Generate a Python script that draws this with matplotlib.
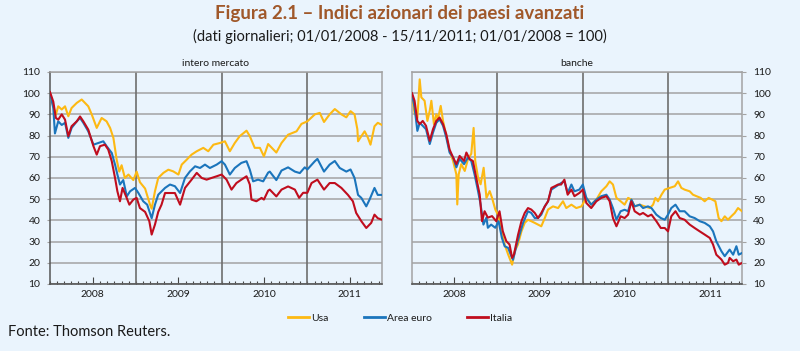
import matplotlib
matplotlib.use("Agg")
import matplotlib.pyplot as plt
import matplotlib.dates as mdates
from matplotlib import font_manager
from matplotlib.lines import Line2D
import pandas as pd

# ---------------- data ----------------
series_names = ["Usa", "Area euro", "Italia"]
panel_titles = ["intero mercato", "banche"]
year_labels = [2008, 2009, 2010, 2011]
y_ticks = [10, 20, 30, 40, 50, 60, 70, 80, 90, 100, 110]

# --- intero mercato ---
mkt_usa_dates = ["2008-01-01", "2008-01-15", "2008-01-26", "2008-02-05", "2008-02-20", "2008-03-05",
                 "2008-03-19", "2008-04-02", "2008-04-24", "2008-05-15", "2008-05-29", "2008-06-12",
                 "2008-06-27", "2008-07-18", "2008-08-08", "2008-08-29", "2008-09-13", "2008-09-27",
                 "2008-10-11", "2008-10-22", "2008-11-01", "2008-11-15", "2008-11-30", "2008-12-21",
                 "2009-01-04", "2009-01-18", "2009-02-09", "2009-03-02", "2009-03-09", "2009-03-23",
                 "2009-04-06", "2009-04-28", "2009-05-19", "2009-06-09", "2009-07-01", "2009-07-15",
                 "2009-08-05", "2009-08-26", "2009-09-17", "2009-10-15", "2009-11-05", "2009-11-27",
                 "2009-12-25", "2010-01-15", "2010-02-05", "2010-02-26", "2010-03-19", "2010-04-17",
                 "2010-05-01", "2010-05-22", "2010-06-13", "2010-06-30", "2010-07-18", "2010-08-22",
                 "2010-09-13", "2010-10-11", "2010-11-16", "2010-12-07", "2011-01-01", "2011-02-02",
                 "2011-02-23", "2011-03-13", "2011-04-06", "2011-04-28", "2011-05-26", "2011-06-16",
                 "2011-07-04", "2011-07-21", "2011-08-02", "2011-08-05", "2011-08-19", "2011-09-02",
                 "2011-09-16", "2011-09-27", "2011-10-14", "2011-10-28", "2011-11-15"]
mkt_usa_vals = [99.5, 93.8, 89.9, 93.8, 92.3, 93.8,
                89.1, 93.0, 95.4, 97.0, 95.4, 93.8,
                89.9, 83.6, 88.3, 86.7, 83.6, 78.9,
                68.6, 63.0, 66.0, 60.0, 61.6, 59.0,
                63.0, 58.0, 55.0, 47.4, 45.5, 53.7,
                60.0, 62.4, 63.9, 63.1, 61.6, 66.3,
                68.6, 71.0, 72.6, 74.2, 72.6, 75.7,
                76.5, 77.3, 72.6, 76.5, 79.7, 82.3,
                79.7, 74.2, 74.2, 70.2, 76.0, 72.0,
                76.5, 80.4, 82.0, 85.5, 86.7, 90.0,
                90.7, 86.4, 90.0, 92.5, 90.0, 88.6,
                91.5, 90.0, 83.0, 77.3, 79.7, 82.0,
                79.0, 75.7, 84.4, 86.0, 85.0]

mkt_eur_dates = ["2008-01-01", "2008-01-15", "2008-01-22", "2008-02-05", "2008-02-20", "2008-03-05",
                 "2008-03-19", "2008-04-02", "2008-04-24", "2008-05-08", "2008-05-22", "2008-06-12",
                 "2008-07-04", "2008-07-25", "2008-08-15", "2008-08-29", "2008-09-20", "2008-10-04",
                 "2008-10-14", "2008-10-25", "2008-11-08", "2008-11-23", "2008-12-07", "2008-12-28",
                 "2009-01-11", "2009-02-01", "2009-02-18", "2009-03-09", "2009-03-23", "2009-04-06",
                 "2009-05-05", "2009-05-26", "2009-06-16", "2009-07-08", "2009-07-29", "2009-08-19",
                 "2009-09-10", "2009-10-01", "2009-10-22", "2009-11-12", "2009-12-11", "2010-01-01",
                 "2010-01-15", "2010-02-05", "2010-02-26", "2010-03-26", "2010-04-17", "2010-05-01",
                 "2010-05-15", "2010-06-05", "2010-06-27", "2010-07-18", "2010-07-25", "2010-08-22",
                 "2010-09-13", "2010-10-11", "2010-11-09", "2010-11-30", "2010-12-21", "2011-01-01",
                 "2011-02-02", "2011-02-13", "2011-03-13", "2011-04-06", "2011-04-28", "2011-05-19",
                 "2011-06-16", "2011-07-04", "2011-07-21", "2011-08-05", "2011-08-19", "2011-09-09",
                 "2011-09-23", "2011-10-14", "2011-10-28", "2011-11-15"]
mkt_eur_vals = [100.0, 93.0, 81.0, 86.7, 85.0, 86.0,
                78.9, 83.6, 86.7, 88.3, 86.0, 82.0,
                75.7, 76.5, 77.3, 75.0, 71.8, 66.3,
                61.6, 56.9, 59.0, 51.3, 53.7, 55.3,
                53.0, 49.0, 47.4, 41.0, 47.4, 52.1,
                55.3, 56.9, 56.1, 52.9, 60.0, 63.1,
                65.5, 64.7, 66.3, 64.7, 66.3, 67.9,
                66.3, 61.6, 64.7, 67.1, 67.9, 63.9,
                58.4, 59.2, 58.4, 62.5, 63.0, 59.0,
                63.5, 65.0, 63.0, 62.3, 65.0, 64.0,
                67.9, 69.0, 63.0, 66.3, 68.0, 64.7,
                63.0, 64.0, 60.0, 52.0, 50.6, 46.6,
                49.8, 55.3, 52.0, 52.0]

mkt_ita_dates = ["2008-01-01", "2008-01-15", "2008-01-26", "2008-02-05", "2008-02-20", "2008-03-05",
                 "2008-03-19", "2008-04-02", "2008-04-24", "2008-05-08", "2008-05-22", "2008-06-12",
                 "2008-07-04", "2008-07-18", "2008-08-01", "2008-08-22", "2008-09-05", "2008-09-20",
                 "2008-10-04", "2008-10-14", "2008-10-25", "2008-11-05", "2008-11-20", "2008-12-04",
                 "2008-12-21", "2009-01-04", "2009-01-18", "2009-02-09", "2009-02-27", "2009-03-09",
                 "2009-03-23", "2009-04-06", "2009-04-20", "2009-05-05", "2009-05-26", "2009-06-16",
                 "2009-07-08", "2009-07-29", "2009-08-26", "2009-09-17", "2009-10-08", "2009-10-29",
                 "2009-11-19", "2009-12-11", "2010-01-01", "2010-01-22", "2010-02-12", "2010-03-05",
                 "2010-03-26", "2010-04-17", "2010-05-01", "2010-05-08", "2010-05-29", "2010-06-20",
                 "2010-06-30", "2010-07-18", "2010-07-25", "2010-08-22", "2010-09-13", "2010-10-11",
                 "2010-11-09", "2010-11-27", "2010-12-14", "2011-01-01", "2011-01-19", "2011-02-13",
                 "2011-03-13", "2011-04-06", "2011-04-28", "2011-05-26", "2011-06-23", "2011-07-14",
                 "2011-07-28", "2011-08-19", "2011-09-09", "2011-09-30", "2011-10-14", "2011-10-28",
                 "2011-11-15"]
mkt_ita_vals = [100.5, 96.0, 88.3, 87.5, 90.0, 87.5,
                79.7, 84.4, 86.7, 89.0, 86.7, 82.8,
                75.0, 71.0, 75.0, 75.7, 73.4, 67.9,
                60.0, 53.7, 49.0, 55.3, 51.3, 47.4,
                49.8, 50.6, 45.8, 44.0, 39.6, 33.3,
                38.0, 44.0, 47.4, 52.9, 52.9, 52.9,
                47.4, 55.3, 59.2, 62.4, 60.0, 59.2,
                60.0, 60.8, 61.6, 59.2, 54.5, 57.6,
                59.2, 60.8, 56.9, 49.8, 49.0, 50.6,
                49.8, 54.0, 54.5, 51.3, 54.5, 56.0,
                54.5, 50.6, 53.0, 53.0, 57.6, 59.2,
                54.5, 57.6, 57.6, 55.3, 52.0, 49.0,
                43.5, 39.6, 36.4, 38.8, 42.7, 41.0,
                40.3]

# --- banche ---
bnk_usa_dates = ["2008-01-01", "2008-01-12", "2008-01-24", "2008-02-03", "2008-02-10", "2008-02-24",
                 "2008-03-07", "2008-03-17", "2008-03-24", "2008-04-04", "2008-04-14", "2008-04-21",
                 "2008-05-03", "2008-05-13", "2008-05-27", "2008-06-10", "2008-06-25", "2008-07-09",
                 "2008-07-13", "2008-07-19", "2008-07-30", "2008-08-14", "2008-08-28", "2008-09-11",
                 "2008-09-21", "2008-09-28", "2008-10-10", "2008-10-21", "2008-11-03", "2008-11-15",
                 "2008-11-29", "2008-12-09", "2008-12-23", "2009-01-06", "2009-01-18", "2009-02-01",
                 "2009-02-16", "2009-03-05", "2009-03-16", "2009-03-30", "2009-04-14", "2009-04-28",
                 "2009-05-12", "2009-05-26", "2009-06-10", "2009-06-24", "2009-07-08", "2009-07-23",
                 "2009-08-06", "2009-08-27", "2009-09-18", "2009-10-09", "2009-10-23", "2009-11-14",
                 "2009-12-05", "2009-12-27", "2010-01-17", "2010-02-07", "2010-03-01", "2010-03-22",
                 "2010-04-13", "2010-04-27", "2010-05-11", "2010-05-26", "2010-06-13", "2010-06-30",
                 "2010-07-15", "2010-07-29", "2010-08-12", "2010-09-03", "2010-09-24", "2010-10-16",
                 "2010-10-30", "2010-11-09", "2010-11-20", "2010-12-05", "2010-12-19", "2011-01-09",
                 "2011-01-31", "2011-02-14", "2011-02-28", "2011-03-14", "2011-04-05", "2011-04-19",
                 "2011-05-04", "2011-05-22", "2011-06-08", "2011-06-25", "2011-07-10", "2011-07-24",
                 "2011-08-07", "2011-08-19", "2011-09-02", "2011-09-16", "2011-09-30", "2011-10-15",
                 "2011-10-29", "2011-11-15"]
bnk_usa_vals = [98.7, 90.7, 88.3, 106.5, 98.0, 96.4,
                86.9, 91.7, 96.4, 85.4, 90.0, 87.7,
                94.0, 86.9, 79.8, 72.8, 68.0, 61.7,
                47.5, 61.7, 66.5, 63.3, 68.9, 71.4,
                83.6, 68.0, 60.2, 57.0, 64.8, 50.6,
                53.8, 50.6, 45.1, 42.0, 34.9, 28.6,
                23.9, 19.1, 25.4, 28.6, 34.8, 38.8,
                40.3, 39.6, 38.8, 38.0, 37.2, 41.1,
                45.1, 46.6, 45.8, 49.0, 45.8, 47.4,
                45.8, 46.6, 50.6, 47.4, 49.8, 53.7,
                56.1, 58.4, 56.9, 50.6, 49.0, 47.4,
                50.6, 49.8, 46.6, 47.4, 46.6, 45.8,
                47.4, 50.6, 49.0, 52.1, 54.5, 55.3,
                56.1, 58.4, 55.3, 54.5, 53.7, 52.1,
                51.4, 50.6, 49.0, 50.6, 49.8, 49.0,
                41.1, 39.6, 41.9, 40.3, 41.9, 43.5,
                45.8, 44.3]

bnk_eur_dates = ["2008-01-01", "2008-01-12", "2008-01-24", "2008-02-03", "2008-02-16", "2008-03-01",
                 "2008-03-17", "2008-03-31", "2008-04-14", "2008-04-28", "2008-05-13", "2008-05-27",
                 "2008-06-10", "2008-06-25", "2008-07-09", "2008-07-23", "2008-08-11", "2008-08-28",
                 "2008-09-11", "2008-09-25", "2008-10-10", "2008-10-21", "2008-11-02", "2008-11-15",
                 "2008-11-21", "2008-12-05", "2008-12-23", "2009-01-06", "2009-01-20", "2009-02-01",
                 "2009-02-16", "2009-03-02", "2009-03-09", "2009-03-23", "2009-04-06", "2009-04-21",
                 "2009-05-12", "2009-05-26", "2009-06-10", "2009-06-24", "2009-07-08", "2009-07-23",
                 "2009-08-06", "2009-08-20", "2009-09-11", "2009-10-01", "2009-10-15", "2009-10-29",
                 "2009-11-14", "2009-11-27", "2009-12-18", "2010-01-02", "2010-01-17", "2010-02-07",
                 "2010-03-01", "2010-03-22", "2010-04-13", "2010-04-27", "2010-05-11", "2010-05-26",
                 "2010-06-13", "2010-06-30", "2010-07-15", "2010-07-29", "2010-08-12", "2010-09-03",
                 "2010-09-17", "2010-10-08", "2010-10-23", "2010-11-13", "2010-12-02", "2010-12-19",
                 "2011-01-02", "2011-01-16", "2011-02-03", "2011-02-21", "2011-03-14", "2011-04-05",
                 "2011-04-26", "2011-05-18", "2011-06-08", "2011-06-30", "2011-07-14", "2011-07-28",
                 "2011-08-19", "2011-09-02", "2011-09-23", "2011-10-08", "2011-10-22", "2011-11-01",
                 "2011-11-15"]
bnk_eur_vals = [99.5, 93.2, 82.2, 86.0, 84.6, 83.0,
                76.0, 81.4, 86.0, 87.7, 84.6, 79.0,
                72.0, 69.7, 65.0, 69.0, 66.5, 69.7,
                68.0, 61.7, 53.8, 47.5, 38.0, 41.3,
                36.5, 38.0, 36.5, 39.6, 31.8, 27.8,
                27.0, 23.0, 21.4, 27.8, 33.3, 38.8,
                44.3, 43.5, 41.1, 41.1, 42.7, 46.6,
                49.0, 54.5, 56.1, 57.6, 58.4, 52.9,
                56.9, 53.7, 54.5, 56.9, 50.6, 47.4,
                49.8, 51.4, 52.1, 49.8, 45.8, 40.3,
                44.3, 45.0, 44.3, 49.8, 46.6, 47.4,
                45.8, 46.6, 45.8, 42.7, 41.1, 40.3,
                42.7, 45.8, 47.4, 44.3, 44.3, 41.9,
                41.1, 39.6, 38.8, 37.2, 34.8, 30.1,
                25.4, 23.1, 26.2, 23.8, 27.8, 23.8,
                24.6]

bnk_ita_dates = ["2008-01-01", "2008-01-12", "2008-01-24", "2008-02-03", "2008-02-16", "2008-03-01",
                 "2008-03-17", "2008-03-31", "2008-04-14", "2008-04-28", "2008-05-13", "2008-05-27",
                 "2008-06-10", "2008-06-25", "2008-07-09", "2008-07-23", "2008-08-11", "2008-08-21",
                 "2008-09-04", "2008-09-18", "2008-10-02", "2008-10-17", "2008-10-27", "2008-11-07",
                 "2008-11-21", "2008-12-09", "2008-12-27", "2009-01-10", "2009-01-24", "2009-02-08",
                 "2009-02-22", "2009-03-05", "2009-03-13", "2009-03-30", "2009-04-14", "2009-04-28",
                 "2009-05-12", "2009-05-26", "2009-06-10", "2009-06-24", "2009-07-08", "2009-07-23",
                 "2009-08-06", "2009-08-20", "2009-09-04", "2009-09-18", "2009-10-01", "2009-10-15",
                 "2009-10-29", "2009-11-14", "2009-11-27", "2009-12-18", "2010-01-02", "2010-01-17",
                 "2010-02-07", "2010-03-01", "2010-03-22", "2010-04-13", "2010-04-27", "2010-05-11",
                 "2010-05-26", "2010-06-13", "2010-06-30", "2010-07-15", "2010-07-29", "2010-08-12",
                 "2010-09-03", "2010-09-17", "2010-10-08", "2010-10-23", "2010-11-13", "2010-12-02",
                 "2010-12-19", "2011-01-02", "2011-01-16", "2011-02-03", "2011-02-21", "2011-03-14",
                 "2011-04-05", "2011-04-26", "2011-05-18", "2011-06-08", "2011-06-30", "2011-07-14",
                 "2011-07-28", "2011-08-19", "2011-09-02", "2011-09-16", "2011-09-23", "2011-10-08",
                 "2011-10-22", "2011-11-01", "2011-11-15"]
bnk_ita_vals = [100.0, 96.4, 86.9, 85.4, 86.9, 84.6,
                77.5, 83.0, 86.9, 88.5, 85.4, 80.6,
                73.4, 69.7, 66.5, 70.4, 68.0, 72.0,
                68.9, 68.0, 60.2, 52.2, 39.6, 44.3,
                41.3, 42.0, 39.6, 44.3, 34.9, 30.2,
                28.6, 22.3, 23.9, 33.0, 39.6, 43.5,
                45.8, 45.1, 43.5, 41.1, 43.5, 46.6,
                49.0, 55.3, 56.1, 56.9, 56.9, 59.2,
                52.1, 54.5, 51.4, 52.9, 54.5, 48.2,
                45.8, 49.0, 50.6, 51.4, 49.0, 41.1,
                37.2, 41.9, 41.1, 42.7, 49.0, 44.3,
                42.7, 43.5, 41.9, 42.7, 39.6, 36.4,
                36.4, 34.8, 41.9, 44.3, 41.1, 40.3,
                38.0, 36.4, 34.8, 33.3, 31.7, 28.6,
                23.8, 21.5, 19.1, 19.9, 22.3, 20.7,
                21.5, 19.1, 19.9]

x_start = "2008-01-01"
x_end = "2011-11-15"

# ---------------- styling ----------------
BG = "#EAF4FD"
COLORS = ["#FDB913", "#1B75BC", "#C00D1E"]
GRID = "#A3A3A3"
YEARLINE = "#6E6E6E"
TEXT = "#1A1A1A"

names = {f.name for f in font_manager.fontManager.ttflist}
FONT = "Liberation Sans Narrow" if "Liberation Sans Narrow" in names else "Lato"
plt.rcParams["font.family"] = [FONT, "DejaVu Sans"]

fig = plt.figure(figsize=(8.0, 3.51), dpi=100, facecolor=BG)
ax1 = fig.add_axes([0.0625, 0.191, 0.415, 0.604])
ax2 = fig.add_axes([0.515, 0.191, 0.4125, 0.604])

panels = [
    (ax1, [(mkt_usa_dates, mkt_usa_vals), (mkt_eur_dates, mkt_eur_vals), (mkt_ita_dates, mkt_ita_vals)], "left"),
    (ax2, [(bnk_usa_dates, bnk_usa_vals), (bnk_eur_dates, bnk_eur_vals), (bnk_ita_dates, bnk_ita_vals)], "right"),
]

for (ax, data, side), ptitle in zip(panels, panel_titles):
    ax.set_facecolor(BG)
    for (d, v), c in zip(data, COLORS):
        ax.plot(pd.to_datetime(d), v, color=c, lw=1.5, solid_joinstyle="round", zorder=3)
    ax.set_xlim(pd.Timestamp(x_start), pd.Timestamp(x_end))
    ax.set_ylim(y_ticks[0], y_ticks[-1])
    ax.set_yticks(y_ticks)
    ax.yaxis.grid(True, color=GRID, lw=1.1)
    ax.set_axisbelow(True)
    for yr in year_labels[1:]:
        ax.axvline(pd.Timestamp(f"{yr}-01-01"), color=YEARLINE, lw=1.2, zorder=2)
    # x ticks: years labelled at mid-year, monthly minor ticks
    ax.xaxis.set_major_locator(mdates.MonthLocator(bymonth=7, bymonthday=1))
    ax.xaxis.set_major_formatter(mdates.DateFormatter("%Y"))
    ax.xaxis.set_minor_locator(mdates.MonthLocator())
    ax.tick_params(axis="x", which="major", direction="in", length=5, width=0.8,
                   color="#444444", labelsize=7.5, labelcolor=TEXT, pad=4)
    ax.tick_params(axis="x", which="minor", direction="in", length=2.5, width=0.8, color="#444444")
    if side == "left":
        ax.tick_params(axis="y", which="both", left=True, right=False, labelleft=True,
                       labelright=False, length=2, color=GRID, labelsize=7.5, labelcolor=TEXT, pad=5)
    else:
        ax.tick_params(axis="y", which="both", left=False, right=True, labelleft=False,
                       labelright=True, length=3, color=GRID, labelsize=7.5, labelcolor=TEXT, pad=5)
    for s in ["top", "right", "left"]:
        ax.spines[s].set_color(GRID)
        ax.spines[s].set_linewidth(1.1)
    ax.spines["bottom"].set_color("#555555")
    ax.spines["bottom"].set_linewidth(1.2)
    if side == "left":
        ax.spines["left"].set_color("#555555")
    ax.set_title(ptitle, fontsize=7.5, color=TEXT, pad=4)

fig.text(0.5, 1 - 14 / 351, "Figura 2.1 \u2013 Indici azionari dei paesi avanzati", ha="center", va="center",
         fontsize=13.5, fontweight="bold", color="#A0582A")
fig.text(0.5, 1 - 36 / 351, "(dati giornalieri; 01/01/2008 - 15/11/2011; 01/01/2008 = 100)", ha="center",
         va="center", fontsize=10.5, color=TEXT)

handles = [Line2D([], [], color=c, lw=2.0) for c in COLORS]
fig.legend(handles, series_names, loc="center", bbox_to_anchor=(0.5, 1 - 318 / 351), ncol=3,
           frameon=False, fontsize=7.5, handlelength=2.0, handletextpad=0.2, columnspacing=3.4,
           labelcolor=TEXT)

fig.text(0.01, 1 - 332 / 351, "Fonte: Thomson Reuters.", ha="left", va="center", fontsize=10.5, color=TEXT)

fig.savefig("out.png", dpi=100, facecolor=BG)
